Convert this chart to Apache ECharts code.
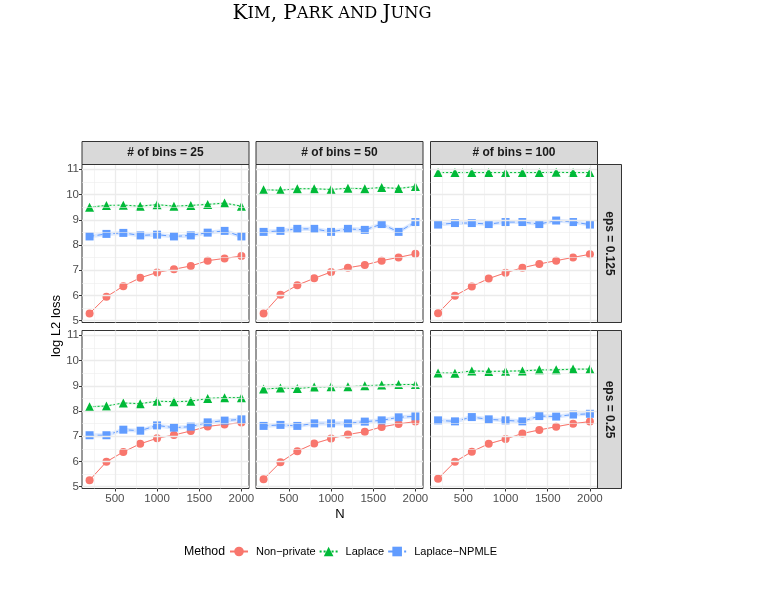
<!DOCTYPE html>
<html><head><meta charset="utf-8">
<script src="https://cdn.jsdelivr.net/npm/echarts@6/dist/echarts.min.js"></script>
<style>html,body{margin:0;padding:0;background:#fff}#c{width:764px;height:611px}</style>
</head><body><div id="c"></div>
<script>
// ---- data ----
const N = [200, 400, 600, 800, 1000, 1200, 1400, 1600, 1800, 2000];
const binLabels = ['# of bins = 25', '# of bins = 50', '# of bins = 100'];
const epsLabels = ['eps = 0.125', 'eps = 0.25'];
const methods = ['Non−private', 'Laplace', 'Laplace−NPMLE'];
const xTicks = [500, 1000, 1500, 2000];
const xMinor = [250, 750, 1250, 1750];
const yTicks = [5, 6, 7, 8, 9, 10, 11];
const yMinor = [5.5, 6.5, 7.5, 8.5, 9.5, 10.5];

// eps = 0.125
const nonPrivate_e0125_b25  = [5.29, 5.95, 6.37, 6.70, 6.91, 7.04, 7.17, 7.38, 7.47, 7.56];
const laplace_e0125_b25     = [9.50, 9.57, 9.58, 9.54, 9.60, 9.54, 9.57, 9.61, 9.66, 9.54];
const npmle_e0125_b25       = [8.34, 8.44, 8.48, 8.38, 8.41, 8.34, 8.38, 8.49, 8.56, 8.34];
const nonPrivate_e0125_b50  = [5.29, 6.03, 6.41, 6.68, 6.93, 7.10, 7.21, 7.38, 7.51, 7.65];
const laplace_e0125_b50     = [10.19, 10.17, 10.23, 10.23, 10.20, 10.25, 10.23, 10.28, 10.24, 10.32];
const npmle_e0125_b50       = [8.52, 8.56, 8.64, 8.64, 8.52, 8.64, 8.60, 8.83, 8.52, 8.91];
const nonPrivate_e0125_b100 = [5.30, 5.99, 6.36, 6.67, 6.90, 7.10, 7.25, 7.38, 7.51, 7.63];
const laplace_e0125_b100    = [10.87, 10.87, 10.87, 10.87, 10.87, 10.87, 10.87, 10.88, 10.87, 10.87];
const npmle_e0125_b100      = [8.81, 8.87, 8.87, 8.83, 8.91, 8.91, 8.83, 8.97, 8.91, 8.81];
// eps = 0.25
const nonPrivate_e025_b25   = [5.26, 5.99, 6.38, 6.70, 6.92, 7.05, 7.21, 7.39, 7.47, 7.54];
const laplace_e025_b25      = [8.17, 8.20, 8.32, 8.29, 8.39, 8.37, 8.39, 8.50, 8.53, 8.53];
const npmle_e025_b25        = [7.04, 7.04, 7.26, 7.22, 7.43, 7.34, 7.38, 7.55, 7.62, 7.67];
const nonPrivate_e025_b50   = [5.30, 5.97, 6.41, 6.71, 6.91, 7.07, 7.18, 7.37, 7.49, 7.58];
const laplace_e025_b50      = [8.87, 8.91, 8.89, 8.95, 8.96, 8.96, 9.00, 9.03, 9.05, 9.05];
const npmle_e025_b50        = [7.41, 7.45, 7.41, 7.51, 7.51, 7.51, 7.58, 7.63, 7.75, 7.79];
const nonPrivate_e025_b100  = [5.32, 5.99, 6.39, 6.70, 6.89, 7.11, 7.25, 7.38, 7.50, 7.58];
const laplace_e025_b100     = [9.51, 9.50, 9.59, 9.57, 9.58, 9.59, 9.63, 9.63, 9.66, 9.66];
const npmle_e025_b100       = [7.63, 7.59, 7.76, 7.67, 7.63, 7.59, 7.80, 7.78, 7.86, 7.89];
// approximate half-width of the shaded band around each method
const ribbonHalf = [0.02, 0.04, 0.08];

const panels = [
  [nonPrivate_e0125_b25, laplace_e0125_b25, npmle_e0125_b25],
  [nonPrivate_e0125_b50, laplace_e0125_b50, npmle_e0125_b50],
  [nonPrivate_e0125_b100, laplace_e0125_b100, npmle_e0125_b100],
  [nonPrivate_e025_b25, laplace_e025_b25, npmle_e025_b25],
  [nonPrivate_e025_b50, laplace_e025_b50, npmle_e025_b50],
  [nonPrivate_e025_b100, laplace_e025_b100, npmle_e025_b100]
];

// ---- styling / layout ----
const FONT = '"Liberation Sans", Arial, Helvetica, sans-serif';
const SERIF = '"DejaVu Serif", "Liberation Serif", serif';
const colors = ['#F8766D', '#00BA38', '#619CFF'];
const bandColors = ['rgba(248,118,109,0.18)', 'rgba(0,186,56,0.13)', 'rgba(97,156,255,0.22)'];
const symbols = ['circle', 'triangle', 'rect'];
const symSizes = [8, 9, 8];
const lineTypes = ['solid', [2, 2], [5, 3]];
const colLeft = [82, 256, 430.5];
const panelW = 167;
const rowTop = [164.5, 330.5];
const panelH = 158;
const X_MIN = 110, X_MAX = 2090, Y_MIN = 4.93, Y_MAX = 11.19;

const grids = [], xAxes = [], yAxes = [], series = [], graphics = [];

function ribbonSeries(p, vals, half, color) {
  const rows = N.map((x, i) => [x, vals[i] - half, vals[i] + half]);
  return {
    type: 'custom', xAxisIndex: p, yAxisIndex: p, silent: true, z: 2, name: 'band',
    data: rows,
    renderItem: function (params, api) {
      if (params.dataIndex !== 0) return null;
      const pts = [];
      rows.forEach(rw => pts.push(api.coord([rw[0], rw[2]])));
      for (let i = rows.length - 1; i >= 0; i--) pts.push(api.coord([rows[i][0], rows[i][1]]));
      return {type: 'polygon', shape: {points: pts}, style: {fill: color}};
    },
    encode: {x: 0, y: [1, 2]}
  };
}

for (let r = 0; r < 2; r++) {
  for (let c = 0; c < 3; c++) {
    const p = r * 3 + c;
    grids.push({left: colLeft[c], top: rowTop[r], width: panelW, height: panelH,
      show: true, borderColor: '#333333', borderWidth: 1, backgroundColor: '#ffffff', containLabel: false});
    xAxes.push({
      type: 'value', gridIndex: p, min: X_MIN, max: X_MAX,
      axisLine: {show: false}, splitLine: {show: false},
      axisTick: {show: r === 1, length: 3, customValues: xTicks, lineStyle: {color: '#333333'}},
      axisLabel: {show: r === 1, customValues: xTicks, color: '#4D4D4D', fontSize: 11.5, fontFamily: FONT, margin: 4,
        formatter: v => String(v)}
    });
    yAxes.push({
      type: 'value', gridIndex: p, min: Y_MIN, max: Y_MAX,
      axisLine: {show: false}, splitLine: {show: false},
      axisTick: {show: c === 0, length: 3, customValues: yTicks, lineStyle: {color: '#333333'}},
      axisLabel: {show: c === 0, customValues: yTicks, color: '#4D4D4D', fontSize: 11.5, fontFamily: FONT, margin: 3,
        formatter: v => String(v)}
    });
    const ml = [];
    xMinor.forEach(v => ml.push({xAxis: v, lineStyle: {color: '#EDEDED', width: 0.6, type: 'solid'}}));
    yMinor.forEach(v => ml.push({yAxis: v, lineStyle: {color: '#EDEDED', width: 0.6, type: 'solid'}}));
    xTicks.forEach(v => ml.push({xAxis: v, lineStyle: {color: '#EBEBEB', width: 1.3, type: 'solid'}}));
    yTicks.forEach(v => ml.push({yAxis: v, lineStyle: {color: '#EBEBEB', width: 1.3, type: 'solid'}}));
    series.push({type: 'line', name: 'grid' + p, xAxisIndex: p, yAxisIndex: p, data: [], z: 1, silent: true,
      markLine: {silent: true, symbol: ['none', 'none'], label: {show: false}, animation: false, data: ml}});
    for (let m = 0; m < 3; m++) {
      const vals = panels[p][m];
      series.push(ribbonSeries(p, vals, ribbonHalf[m], bandColors[m]));
      series.push({type: 'line', name: methods[m], xAxisIndex: p, yAxisIndex: p, z: 3,
        symbol: symbols[m], symbolSize: symSizes[m],
        lineStyle: {color: colors[m], width: 1, type: lineTypes[m]},
        itemStyle: {color: colors[m]},
        data: N.map((x, i) => [x, vals[i]])});
    }
  }
  graphics.push({type: 'rect', shape: {x: 597.5, y: rowTop[r], width: 24, height: panelH},
    style: {fill: '#D9D9D9', stroke: '#333333', lineWidth: 1}, z: 10});
  graphics.push({type: 'text', x: 609.5, y: rowTop[r] + panelH / 2, rotation: -Math.PI / 2, z: 11,
    style: {text: epsLabels[r], x: 0, y: 0, align: 'center', verticalAlign: 'middle',
      font: 'bold 12px ' + FONT, fill: '#1A1A1A'}});
}
for (let c = 0; c < 3; c++) {
  graphics.push({type: 'rect', shape: {x: colLeft[c], y: 141.5, width: panelW, height: 23},
    style: {fill: '#D9D9D9', stroke: '#333333', lineWidth: 1}, z: 10});
  graphics.push({type: 'text', z: 11,
    style: {text: binLabels[c], x: colLeft[c] + panelW / 2, y: 153, align: 'center', verticalAlign: 'middle',
      font: 'bold 12px ' + FONT, fill: '#1A1A1A'}});
}
graphics.push({type: 'text', x: 56, y: 326, rotation: Math.PI / 2, z: 11,
  style: {text: 'log L2 loss', x: 0, y: 0, align: 'center', verticalAlign: 'middle', font: '13px ' + FONT, fill: '#000'}});
graphics.push({type: 'text', z: 11,
  style: {text: 'N', x: 340, y: 514, align: 'center', verticalAlign: 'middle', font: '13px ' + FONT, fill: '#000'}});
graphics.push({type: 'text', z: 11,
  style: {text: 'Method', x: 184, y: 552, align: 'left', verticalAlign: 'middle', font: '12.3px ' + FONT, fill: '#000'}});
graphics.push({type: 'text', z: 11,
  style: {x: 332, y: 14, align: 'center', verticalAlign: 'middle',
    text: '{a|K}{b|IM}{a|, P}{b|ARK AND }{a|J}{b|UNG}',
    rich: {a: {fontFamily: SERIF, fontSize: 20, color: '#333'},
           b: {fontFamily: SERIF, fontSize: 16.3, color: '#333'}}}});

const chart = echarts.init(document.getElementById('c'), null, {renderer: 'canvas'});
chart.setOption({
  animation: false,
  backgroundColor: '#ffffff',
  grid: grids, xAxis: xAxes, yAxis: yAxes, series: series,
  legend: {data: methods, left: 224, top: 541, itemWidth: 18, itemHeight: 12, itemGap: 3,
    textStyle: {fontSize: 11, fontFamily: FONT, color: '#000', padding: [0, 0, 0, 3]}},
  graphic: graphics
});
</script></body></html>
